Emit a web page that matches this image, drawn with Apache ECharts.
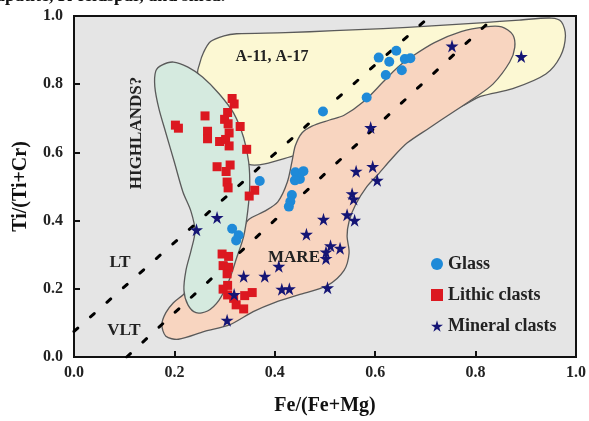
<!DOCTYPE html>
<html>
<head>
<meta charset="utf-8">
<script src="https://cdn.jsdelivr.net/npm/echarts@6/dist/echarts.min.js"></script>
<style>
html,body{margin:0;padding:0;background:#fff;}
#chart{width:589px;height:421px;}
</style>
</head>
<body>
<div id="chart"></div>
<script>
// ---- data ----
var xTicks = [0.0, 0.2, 0.4, 0.6, 0.8, 1.0];
var yTicks = [0.0, 0.2, 0.4, 0.6, 0.8, 1.0];
var seriesNames = ['Glass', 'Lithic clasts', 'Mineral clasts'];

var glass = [
  [0.370,0.516],[0.315,0.376],[0.328,0.357],[0.323,0.342],
  [0.441,0.542],[0.457,0.545],[0.450,0.522],[0.440,0.518],[0.434,0.475],[0.431,0.456],[0.428,0.441],
  [0.496,0.720],[0.583,0.761],[0.621,0.827],[0.607,0.878],[0.628,0.866],[0.642,0.898],[0.653,0.841],[0.659,0.874],[0.670,0.876]
];
var lithic = [
  [0.202,0.680],[0.208,0.671],
  [0.261,0.707],[0.315,0.758],[0.319,0.742],[0.306,0.717],[0.300,0.697],[0.307,0.684],[0.331,0.676],
  [0.266,0.662],[0.266,0.640],[0.309,0.657],[0.290,0.632],[0.302,0.638],[0.309,0.619],[0.344,0.609],
  [0.285,0.558],[0.311,0.563],[0.303,0.544],[0.305,0.513],[0.307,0.496],[0.360,0.489],[0.349,0.472],
  [0.295,0.302],[0.308,0.295],[0.297,0.268],[0.308,0.263],[0.305,0.244],[0.306,0.210],[0.297,0.199],
  [0.306,0.182],[0.318,0.172],[0.340,0.180],[0.355,0.189],[0.323,0.153],[0.338,0.141]
];
var mineral = [
  [0.244,0.373],[0.285,0.409],[0.305,0.108],[0.319,0.183],[0.338,0.237],[0.380,0.237],[0.408,0.266],
  [0.414,0.199],[0.429,0.200],[0.463,0.360],[0.497,0.404],[0.511,0.326],[0.530,0.319],[0.502,0.308],
  [0.502,0.289],[0.505,0.203],[0.544,0.417],[0.559,0.401],[0.554,0.479],[0.557,0.463],[0.562,0.545],
  [0.595,0.559],[0.604,0.518],[0.591,0.673],[0.753,0.912],[0.891,0.881]
];

// discrimination lines
var lineLT = [[0.0,0.075],[0.71,1.0]];
var lineVLT = [[0.105,0.0],[0.84,1.0]];

// field outlines (data coordinates)
var fieldA11 = [
  [0.247,0.830],[0.250,0.859],[0.258,0.893],[0.272,0.925],[0.299,0.942],[0.324,0.948],[0.421,0.951],
  [0.518,0.957],[0.616,0.963],[0.713,0.971],[0.810,0.980],[0.887,0.988],[0.951,0.994],[0.971,0.983],
  [0.979,0.942],[0.969,0.882],[0.940,0.830],[0.874,0.787],[0.810,0.764],[0.771,0.735],[0.635,0.671],
  [0.441,0.591],[0.348,0.565],[0.324,0.643],[0.295,0.744]
];
var fieldMare = [
  [0.175,0.095],[0.183,0.130],[0.198,0.159],[0.217,0.182],[0.247,0.225],[0.295,0.297],[0.334,0.369],
  [0.348,0.403],[0.379,0.427],[0.406,0.455],[0.425,0.513],[0.435,0.579],[0.441,0.620],[0.454,0.657],
  [0.474,0.677],[0.509,0.695],[0.538,0.709],[0.577,0.749],[0.616,0.807],[0.645,0.850],[0.674,0.882],
  [0.718,0.922],[0.771,0.954],[0.819,0.968],[0.852,0.968],[0.874,0.945],[0.878,0.908],[0.868,0.865],
  [0.835,0.801],[0.796,0.758],[0.757,0.720],[0.707,0.671],[0.664,0.628],[0.635,0.585],[0.606,0.536],
  [0.583,0.499],[0.561,0.447],[0.548,0.398],[0.544,0.354],[0.548,0.305],[0.538,0.254],[0.505,0.210],
  [0.447,0.182],[0.402,0.161],[0.357,0.133],[0.311,0.095],[0.260,0.075],[0.208,0.052],[0.183,0.061]
];
var fieldHighlands = [
  [0.175,0.856],[0.198,0.865],[0.227,0.850],[0.256,0.821],[0.289,0.772],[0.318,0.715],[0.338,0.643],
  [0.348,0.571],[0.350,0.499],[0.346,0.427],[0.338,0.354],[0.324,0.291],[0.309,0.225],[0.289,0.167],
  [0.266,0.135],[0.243,0.130],[0.227,0.153],[0.219,0.196],[0.223,0.254],[0.233,0.311],[0.241,0.369],
  [0.233,0.427],[0.217,0.484],[0.200,0.571],[0.183,0.657],[0.169,0.729],[0.161,0.793],[0.163,0.839]
];

// ---- chart ----
var SERIF = '"Liberation Serif","Times New Roman",serif';
var chart = echarts.init(document.getElementById('chart'), null, {renderer:'canvas'});

function fieldSeries(poly, fill, smooth){
  return {
    type:'custom', silent:true, z:1,
    data:[[poly[0][0], poly[0][1]]],
    encode:{x:0,y:1},
    renderItem:function(params, api){
      var pts = poly.map(function(p){ return api.coord(p); });
      return {type:'polygon', shape:{points:pts, smooth:smooth},
        style:{fill:fill, stroke:'#5a5a5a', lineWidth:1.3}};
    }
  };
}
function dashLine(pts){
  return {type:'line', data:pts, symbol:'none', silent:true, z:3,
    lineStyle:{color:'#000', width:3, type:[5,17], cap:'round'}};
}
var starPath = 'path://M50,0 L61,35 L98,35 L68,57 L79,91 L50,70 L21,91 L32,57 L2,35 L39,35 Z';

var option = {
  animation:false,
  backgroundColor:'#ffffff',
  grid:{left:74, right:1, top:16, bottom:58, show:true, backgroundColor:'#e5e5e5', borderColor:'#111', borderWidth:2},
  xAxis:{type:'value', min:xTicks[0], max:xTicks[xTicks.length-1], interval:0.2,
    name:'Fe/(Fe+Mg)', nameLocation:'middle', nameGap:39,
    nameTextStyle:{fontFamily:SERIF, fontWeight:'bold', fontSize:20, color:'#111'},
    axisLine:{lineStyle:{color:'#111', width:2}},
    axisTick:{inside:true, length:6, lineStyle:{color:'#111', width:2}},
    axisLabel:{fontFamily:SERIF, fontWeight:'bold', fontSize:16, color:'#222', margin:8,
      formatter:function(v){return v.toFixed(1);}},
    splitLine:{show:false}},
  yAxis:{type:'value', min:yTicks[0], max:yTicks[yTicks.length-1], interval:0.2,
    name:'Ti/(Ti+Cr)', nameLocation:'middle', nameGap:43,
    nameTextStyle:{fontFamily:SERIF, fontWeight:'bold', fontSize:20, color:'#111'},
    axisLine:{lineStyle:{color:'#111', width:2}},
    axisTick:{inside:true, length:6, lineStyle:{color:'#111', width:2}},
    axisLabel:{fontFamily:SERIF, fontWeight:'bold', fontSize:16, color:'#222', margin:11,
      formatter:function(v){return v.toFixed(1);}},
    splitLine:{show:false}},
  legend:{data:seriesNames, orient:'vertical', left:426, top:250, itemGap:13,
    itemWidth:12, itemHeight:12,
    textStyle:{fontFamily:SERIF, fontWeight:'bold', fontSize:18, color:'#222'}},
  graphic:[
    {type:'text', left:-4, top:-13, style:{text:'apatite, K-feldspar, and silica.', font:'bold 18px '+SERIF, fill:'#111'}},
    {type:'text', x:272, y:57, style:{text:'A-11, A-17', font:'bold 16px '+SERIF, fill:'#222', align:'center', verticalAlign:'middle'}, z:10},
    {type:'text', x:137, y:133, rotation:Math.PI/2, style:{text:'HIGHLANDS?', font:'bold 17px '+SERIF, fill:'#222', align:'center', verticalAlign:'middle'}, z:10},
    {type:'text', x:120, y:263, style:{text:'LT', font:'bold 17px '+SERIF, fill:'#222', align:'center', verticalAlign:'middle'}, z:10},
    {type:'text', x:124, y:331, style:{text:'VLT', font:'bold 17px '+SERIF, fill:'#222', align:'center', verticalAlign:'middle'}, z:10},
    {type:'text', x:294, y:258, style:{text:'MARE', font:'bold 17px '+SERIF, fill:'#222', align:'center', verticalAlign:'middle'}, z:10}
  ],
  series:[
    fieldSeries(fieldA11, '#fcf8d3', 0.3),
    fieldSeries(fieldMare, '#f8d5c0', 0.3),
    fieldSeries(fieldHighlands, '#d5eadf', 0.3),
    dashLine(lineLT),
    dashLine(lineVLT),
    {name:seriesNames[0], type:'scatter', data:glass, symbol:'circle', symbolSize:10, z:5,
      itemStyle:{color:'#1f8ad8', opacity:1}},
    {name:seriesNames[1], type:'scatter', data:lithic, symbol:'rect', symbolSize:9, z:5,
      itemStyle:{color:'#dc1820', opacity:1}},
    {name:seriesNames[2], type:'scatter', data:mineral, symbol:starPath, symbolSize:13, z:6,
      itemStyle:{color:'#151575', opacity:1}}
  ]
};
chart.setOption(option);
</script>
</body>
</html>
